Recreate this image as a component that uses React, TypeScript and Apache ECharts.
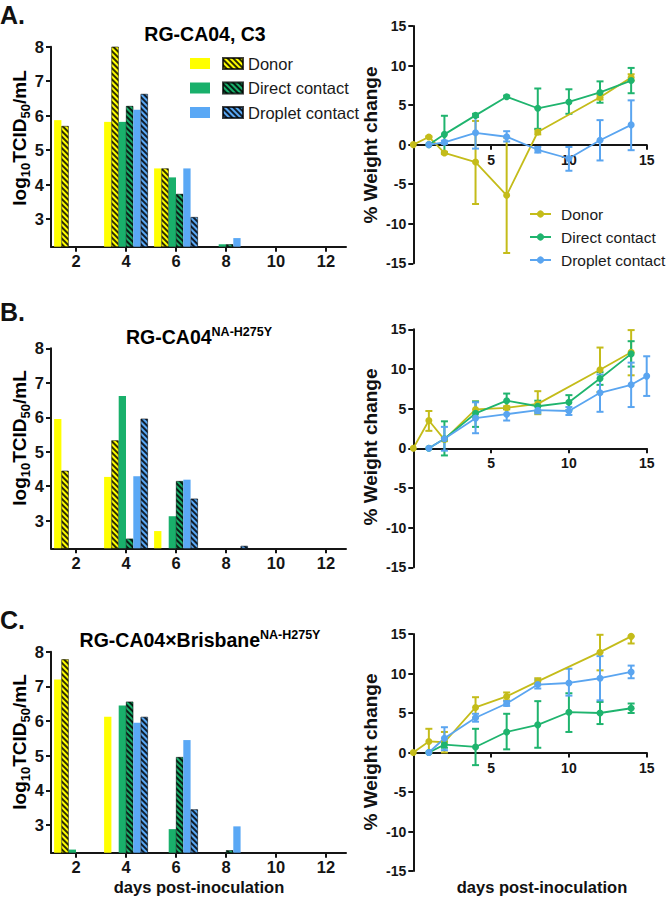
import React, { useEffect, useRef } from 'react';
import * as echarts from 'echarts';

const FONT = '"Liberation Sans", Arial, Helvetica, sans-serif';

// ---------- virus titre bars (log10 TCID50/mL) ----------
const barDays = [2, 4, 6, 8];
// Panel A: RG-CA04, C3
const aDonorSolid = [5.87, 5.82, 4.47, null];
const aDonorHatched = [5.7, 8.0, 4.47, null];
const aDirectSolid = [null, 5.82, 4.21, 2.27];
const aDirectHatched = [null, 6.28, 3.73, 2.27];
const aDropletSolid = [null, 6.17, 4.47, 2.45];
const aDropletHatched = [null, 6.63, 3.06, null];
// Panel B: RG-CA04 NA-H275Y
const bDonorSolid = [5.95, 4.27, 2.7, null];
const bDonorHatched = [4.45, 5.33, null, null];
const bDirectSolid = [null, 6.62, 3.13, null];
const bDirectHatched = [null, 2.48, 4.15, null];
const bDropletSolid = [null, 4.29, 4.19, null];
const bDropletHatched = [null, 5.96, 3.64, 2.27];
// Panel C: RG-CA04xBrisbane NA-H275Y
const cDonorSolid = [7.2, 6.12, null, null];
const cDonorHatched = [7.78, null, null, null];
const cDirectSolid = [2.29, 6.45, 2.88, null];
const cDirectHatched = [null, 6.56, 4.96, 2.27];
const cDropletSolid = [null, 5.95, 5.45, 2.96];
const cDropletHatched = [null, 6.12, 3.45, null];

const titreTicks = [3, 4, 5, 6, 7, 8];
const titreDayTicks = [2, 4, 6, 8, 10, 12];
const weightDayTicks = [5, 10, 15];

// ---------- weight change (%) ----------
// Panel A
const aDonorDays = [0, 1, 2, 4, 6, 8, 12, 14];
const aDonorMean = [0, 0.97, -1.05, -2.2, -6.4, 1.6, 6.0, 8.5];
const aDonorLo = [0, 0.9, -1.2, -7.5, -13.7, 1.3, 5.7, 8.1];
const aDonorHi = [0, 1.05, -0.9, 3.0, 0.9, 1.9, 6.3, 8.9];
const aDirectDays = [1, 2, 4, 6, 8, 10, 12, 14];
const aDirectMean = [0, 1.3, 3.7, 6.05, 4.6, 5.4, 6.6, 8.1];
const aDirectLo = [0, -1.05, 3.5, 5.9, 2.0, 3.9, 5.3, 6.5];
const aDirectHi = [0, 3.65, 3.9, 6.2, 7.1, 7.0, 8.0, 9.7];
const aDropletDays = [1, 2, 4, 6, 8, 10, 12, 14];
const aDropletMean = [0, 0.3, 1.5, 1.0, -0.65, -1.75, 0.55, 2.5];
const aDropletLo = [0, 0.1, -0.5, 0.4, -1.0, -3.3, -2.0, -0.7];
const aDropletHi = [0, 0.5, 3.6, 1.7, -0.3, -0.3, 3.1, 5.6];
// Panel B
const bDonorDays = [0, 1, 2, 4, 6, 8, 12, 14];
const bDonorMean = [0, 3.5, 1.1, 4.9, 5.1, 5.6, 9.9, 12.1];
const bDonorLo = [0, 2.2, 0.9, 3.9, 4.9, 4.3, 7.1, 9.2];
const bDonorHi = [0, 4.7, 1.3, 5.9, 5.3, 7.2, 12.7, 14.9];
const bDirectDays = [1, 2, 4, 6, 8, 10, 12, 14];
const bDirectMean = [0, 1.2, 4.4, 6.0, 5.3, 5.8, 8.8, 11.9];
const bDirectLo = [0, -0.9, 2.7, 5.0, 4.6, 4.8, 8.0, 10.3];
const bDirectHi = [0, 3.4, 5.9, 6.9, 6.0, 6.7, 9.6, 13.5];
const bDropletDays = [1, 2, 4, 6, 8, 10, 12, 14, 15];
const bDropletMean = [0, 1.2, 3.8, 4.3, 4.8, 4.7, 7.0, 8.0, 9.1];
const bDropletLo = [0, -0.3, 1.9, 3.5, 4.4, 4.2, 4.6, 5.2, 6.6];
const bDropletHi = [0, 2.7, 5.8, 5.2, 5.3, 5.2, 9.3, 10.8, 11.6];
// Panel C
const cDonorDays = [0, 1, 2, 4, 6, 8, 12, 14];
const cDonorMean = [0, 1.4, 1.3, 5.7, 7.1, 9.0, 12.7, 14.7];
const cDonorLo = [0, 0, 0, 4.4, 6.6, 8.6, 10.4, 13.8];
const cDonorHi = [0, 3.0, 2.6, 7.0, 7.6, 9.4, 14.9, 14.7];
const cDirectDays = [1, 2, 4, 6, 8, 10, 12, 14];
const cDirectMean = [0, 1.0, 0.7, 2.6, 3.5, 5.1, 5.0, 5.6];
const cDirectLo = [0, 0.6, -1.6, 0.4, 0.6, 2.6, 3.6, 5.0];
const cDirectHi = [0, 1.4, 3.0, 4.9, 6.5, 7.5, 6.4, 6.2];
const cDropletDays = [1, 2, 4, 6, 8, 10, 12, 14];
const cDropletMean = [0, 1.8, 4.4, 6.2, 8.6, 8.8, 9.4, 10.2];
const cDropletLo = [0, 0.3, 3.9, 5.9, 8.1, 7.2, 6.6, 9.4];
const cDropletHi = [0, 3.2, 4.9, 6.5, 9.2, 10.6, 12.2, 11.0];

const groupNames = ['Donor', 'Direct contact', 'Droplet contact'];

const BAR_COLORS = ['#ffff00', '#19b06b', '#5aa8f5'];
const LINE_COLORS = ['#c4bc1a', '#1fb46e', '#5aa5f0'];

const hatch = {
  symbol: 'rect',
  symbolSize: 1,
  dashArrayX: [1, 0],
  dashArrayY: [1.3, 1.7],
  rotation: Math.PI / 4,
  color: 'rgba(0,0,0,0.82)',
};

const barPanels = [
  [aDonorSolid, aDonorHatched, aDirectSolid, aDirectHatched, aDropletSolid, aDropletHatched],
  [bDonorSolid, bDonorHatched, bDirectSolid, bDirectHatched, bDropletSolid, bDropletHatched],
  [cDonorSolid, cDonorHatched, cDirectSolid, cDirectHatched, cDropletSolid, cDropletHatched],
];

const weightPanels = [
  [
    [aDonorDays, aDonorMean, aDonorLo, aDonorHi],
    [aDirectDays, aDirectMean, aDirectLo, aDirectHi],
    [aDropletDays, aDropletMean, aDropletLo, aDropletHi],
  ],
  [
    [bDonorDays, bDonorMean, bDonorLo, bDonorHi],
    [bDirectDays, bDirectMean, bDirectLo, bDirectHi],
    [bDropletDays, bDropletMean, bDropletLo, bDropletHi],
  ],
  [
    [cDonorDays, cDonorMean, cDonorLo, cDonorHi],
    [cDirectDays, cDirectMean, cDirectLo, cDirectHi],
    [cDropletDays, cDropletMean, cDropletLo, cDropletHi],
  ],
];

const leftGrids = [
  { left: 51, top: 46.7, width: 295, height: 200 },
  { left: 51, top: 348.3, width: 295, height: 200 },
  { left: 51, top: 651.7, width: 295, height: 201 },
];
const rightGrids = [
  { left: 413.3, top: 26, width: 233.4, height: 237.3 },
  { left: 413.3, top: 329.3, width: 233.4, height: 238 },
  { left: 413.3, top: 634, width: 233.4, height: 237 },
];

const AXIS_COLOR = '#151515';

function errorRender(color: string) {
  return (params: any, api: any) => {
    const x = api.value(0);
    const lo = api.value(1);
    const hi = api.value(2);
    const a = api.coord([x, hi]);
    const b = api.coord([x, lo]);
    const w = 3.5;
    const style = { stroke: color, lineWidth: 2, fill: null };
    return {
      type: 'group',
      children: [
        { type: 'line', shape: { x1: a[0], y1: a[1], x2: b[0], y2: b[1] }, style },
        { type: 'line', shape: { x1: a[0] - w, y1: a[1], x2: a[0] + w, y2: a[1] }, style },
        { type: 'line', shape: { x1: b[0] - w, y1: b[1], x2: b[0] + w, y2: b[1] }, style },
      ],
    };
  };
}

function buildOption() {
  const grid: any[] = [];
  const xAxis: any[] = [];
  const yAxis: any[] = [];
  const series: any[] = [];
  const panelKeys = ['A', 'B', 'C'];

  for (let p = 0; p < 3; p++) {
    // left titre chart
    const li = grid.length;
    grid.push({ ...leftGrids[p], containLabel: false });
    xAxis.push({
      type: 'value',
      gridIndex: li,
      min: 1,
      max: 12.8,
      splitLine: { show: false },
      axisLine: { show: true, onZero: false, lineStyle: { color: AXIS_COLOR, width: 2 } },
      axisTick: { show: true, customValues: titreDayTicks, length: 5, lineStyle: { color: AXIS_COLOR, width: 2 } },
      axisLabel: {
        customValues: titreDayTicks,
        fontSize: 16.5,
        fontWeight: 'bold',
        fontFamily: FONT,
        color: AXIS_COLOR,
        margin: 6,
      },
    });
    yAxis.push({
      type: 'value',
      gridIndex: li,
      min: 2.2,
      max: 8,
      splitLine: { show: false },
      axisLine: { show: true, onZero: false, lineStyle: { color: AXIS_COLOR, width: 2 } },
      axisTick: { show: true, customValues: titreTicks, length: 5, lineStyle: { color: AXIS_COLOR, width: 2 } },
      axisLabel: {
        customValues: titreTicks,
        fontSize: 16.5,
        fontWeight: 'bold',
        fontFamily: FONT,
        color: AXIS_COLOR,
        margin: 7,
      },
    });
    barPanels[p].forEach((vals, k) => {
      const g = Math.floor(k / 2);
      const hatched = k % 2 === 1;
      let name: string;
      if (p === 0) name = hatched ? groupNames[g] : groupNames[g] + ' solid';
      else name = groupNames[g] + (hatched ? ' hatched ' : ' solid ') + panelKeys[p];
      series.push({
        type: 'bar',
        name,
        xAxisIndex: li,
        yAxisIndex: li,
        barWidth: 7.3,
        barGap: '0%',
        clip: true,
        data: barDays.map((d, i) => [d, vals[i] == null ? '-' : vals[i]]),
        itemStyle: hatched
          ? { color: BAR_COLORS[g], decal: hatch, borderColor: 'rgba(0,0,0,0.5)', borderWidth: 0.6 }
          : { color: BAR_COLORS[g] },
      });
    });

    // right weight chart
    const ri = grid.length;
    grid.push({ ...rightGrids[p], containLabel: false });
    xAxis.push({
      type: 'value',
      gridIndex: ri,
      min: 0,
      max: 15,
      interval: 5,
      position: 'bottom',
      offset: -rightGrids[p].height / 2,
      splitLine: { show: false },
      axisLine: { show: true, onZero: false, lineStyle: { color: AXIS_COLOR, width: 2 } },
      axisTick: { show: true, customValues: weightDayTicks, length: 5, lineStyle: { color: AXIS_COLOR, width: 2 } },
      axisLabel: {
        customValues: weightDayTicks,
        fontSize: 14,
        fontWeight: 'bold',
        fontFamily: FONT,
        color: AXIS_COLOR,
        margin: 8,
      },
    });
    yAxis.push({
      type: 'value',
      gridIndex: ri,
      min: -15,
      max: 15,
      interval: 5,
      splitLine: { show: false },
      axisLine: { show: true, onZero: false, lineStyle: { color: AXIS_COLOR, width: 2 } },
      axisTick: { show: true, length: 5, lineStyle: { color: AXIS_COLOR, width: 2 } },
      axisLabel: { fontSize: 14, fontWeight: 'bold', fontFamily: FONT, color: AXIS_COLOR, margin: 7 },
    });
    weightPanels[p].forEach((s, g) => {
      const [days, mean, lo, hi] = s;
      const name = p === 0 ? groupNames[g] + ' weight' : groupNames[g] + ' weight ' + panelKeys[p];
      series.push({
        type: 'custom',
        name: name + ' sd',
        xAxisIndex: ri,
        yAxisIndex: ri,
        renderItem: errorRender(LINE_COLORS[g]),
        encode: { x: 0, y: [1, 2] },
        data: days.map((d, i) => [d, lo[i], hi[i]]).filter((r) => r[1] !== r[2]),
        z: 2,
      });
      series.push({
        type: 'line',
        name,
        xAxisIndex: ri,
        yAxisIndex: ri,
        symbol: 'circle',
        symbolSize: 7,
        data: days.map((d, i) => [d, mean[i]]),
        lineStyle: { color: LINE_COLORS[g], width: 1.8 },
        itemStyle: { color: LINE_COLORS[g] },
        z: 3,
      });
    });
  }

  const titleRich = {
    m: { fontSize: 19.5, fontWeight: 'bold', fontFamily: FONT, color: '#111', lineHeight: 22, verticalAlign: 'bottom' },
    s: { fontSize: 12.5, fontWeight: 'bold', fontFamily: FONT, color: '#111', lineHeight: 12, verticalAlign: 'top' },
  };
  const ylabRich = {
    m: { fontSize: 19, fontWeight: 'bold', fontFamily: FONT, color: '#111', lineHeight: 22, verticalAlign: 'top' },
    b: { fontSize: 13, fontWeight: 'bold', fontFamily: FONT, color: '#111', lineHeight: 14, verticalAlign: 'bottom' },
  };
  const letter = (t: string, y: number) => ({
    type: 'text',
    x: 0,
    y,
    style: { text: t, fontSize: 25, fontWeight: 'bold', fontFamily: FONT, fill: '#111', align: 'left', verticalAlign: 'middle' },
  });
  const title = (t: string, x: number, y: number) => ({
    type: 'text',
    x,
    y,
    style: { text: t, rich: titleRich, align: 'center', verticalAlign: 'middle' },
  });
  const ylab = (y: number) => ({
    type: 'text',
    x: 21,
    y,
    rotation: Math.PI / 2,
    style: { text: '{m|log}{b|10}{m|TCID}{b|50}{m|/mL}', rich: ylabRich, align: 'center', verticalAlign: 'middle' },
  });
  const wlab = (y: number) => ({
    type: 'text',
    x: 370,
    y,
    rotation: Math.PI / 2,
    style: { text: '% Weight change', fontSize: 19, fontWeight: 'bold', fontFamily: FONT, fill: '#111', align: 'center', verticalAlign: 'middle' },
  });
  const xlab = (x: number, y: number) => ({
    type: 'text',
    x,
    y,
    style: { text: 'days post-inoculation', fontSize: 16.5, fontWeight: 'bold', fontFamily: FONT, fill: '#111', align: 'center', verticalAlign: 'middle' },
  });

  const graphic = [
    letter('A.', 15),
    letter('B.', 312),
    letter('C.', 620),
    title('{m|RG-CA04, C3}', 205, 33),
    title('{m|RG-CA04}{s|NA-H275Y}', 199, 336),
    title('{m|RG-CA04\u00d7Brisbane}{s|NA-H275Y}', 200, 639),
    ylab(138),
    ylab(438),
    ylab(742),
    wlab(145),
    wlab(447),
    wlab(752),
    xlab(199, 887),
    xlab(542, 887),
  ];

  const legendText = { fontSize: 16.5, fontFamily: FONT, color: '#1a1a1a', lineHeight: 16 };

  return {
    animation: false,
    backgroundColor: '#ffffff',
    grid,
    xAxis,
    yAxis,
    series,
    graphic,
    legend: [
      {
        data: groupNames.map((n) => n + ' solid'),
        orient: 'vertical',
        left: 190,
        top: 55,
        padding: 0,
        icon: 'rect',
        itemWidth: 20,
        itemHeight: 11,
        itemGap: 7.5,
        formatter: () => ' ',
        textStyle: legendText,
        selectedMode: false,
      },
      {
        data: groupNames,
        orient: 'vertical',
        left: 222,
        top: 55,
        padding: 0,
        icon: 'rect',
        itemWidth: 20,
        itemHeight: 11,
        itemGap: 7.5,
        textStyle: legendText,
        selectedMode: false,
      },
      {
        data: groupNames.map((n) => n + ' weight'),
        orient: 'vertical',
        left: 529,
        top: 206,
        padding: 0,
        itemWidth: 21,
        itemHeight: 9,
        itemGap: 7,
        formatter: (n: string) => n.replace(' weight', ''),
        textStyle: { ...legendText, fontSize: 15.5, padding: [0, 0, 0, 5] },
        selectedMode: false,
      },
    ],
  };
}

export default function App() {
  const ref = useRef<HTMLDivElement>(null);
  useEffect(() => {
    if (!ref.current) return;
    const chart = echarts.init(ref.current, null, { renderer: 'svg' });
    chart.setOption(buildOption() as any);
    return () => chart.dispose();
  }, []);
  return (
    <div
      ref={ref}
      style={{ position: 'absolute', left: 0, top: 0, width: 666, height: 898, background: '#fff' }}
    />
  );
}
